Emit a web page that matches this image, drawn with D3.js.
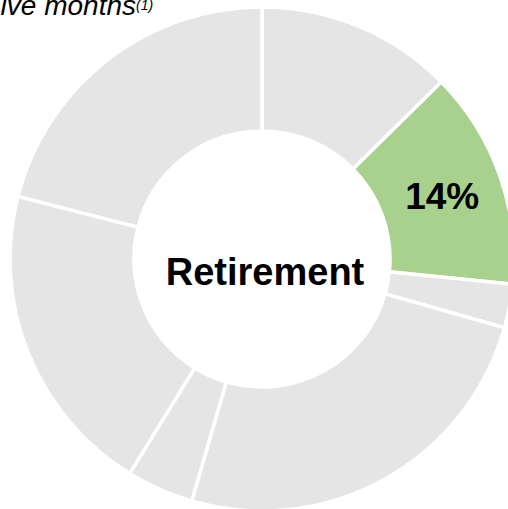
<!DOCTYPE html>
<html>
<head>
<meta charset="utf-8">
<script src="https://cdn.jsdelivr.net/npm/d3@7/dist/d3.min.js"></script>
<style>
  html, body { margin: 0; padding: 0; background: #ffffff; overflow: hidden; }
  svg { display: block; font-family: "Liberation Sans", Arial, sans-serif; }
</style>
</head>
<body>
<svg id="chart" width="508" height="509"></svg>
<script>
// Share of each slice (percent), clockwise from 12 o'clock
const shares = [12.6, 14, 2.8, 25.1, 4.3, 20.2, 21.0];
// Which slice is highlighted and labelled
const highlight = [false, true, false, false, false, false, false];
const centerLabel = "Retirement";
const titleText = "twelve months";
const titleNote = "(1)";

const svg = d3.select("#chart");
const cx = 262, cy = 259;
const outerR = 252, innerR = 128;

const pie = d3.pie().sort(null).value(d => d).startAngle(0).endAngle(2 * Math.PI);
const arc = d3.arc().innerRadius(innerR).outerRadius(outerR);
const colour = d3.scaleOrdinal().domain([false, true]).range(["#e5e5e5", "#a9d18e"]);

const g = svg.append("g").attr("transform", `translate(${cx},${cy})`);
const arcs = pie(shares);

g.selectAll("path.slice")
  .data(arcs)
  .join("path")
  .attr("class", "slice")
  .attr("d", arc)
  .attr("fill", (d, i) => colour(highlight[i]))
  .attr("stroke", "#ffffff")
  .attr("stroke-width", 3.5)
  .attr("stroke-linejoin", "miter");

// Percentage label on the highlighted slice
g.selectAll("text.pct")
  .data(arcs.filter((d, i) => highlight[i]))
  .join("text")
  .attr("class", "pct")
  .attr("x", d => arc.centroid(d)[0] + 1)
  .attr("y", d => arc.centroid(d)[1])
  .attr("dy", "0.36em")
  .attr("text-anchor", "middle")
  .attr("font-weight", "bold")
  .attr("font-size", 37)
  .attr("fill", "#000")
  .text(d => `${Math.round(d.data)}%`);

// Centre label
g.append("text")
  .attr("x", 3)
  .attr("y", 26)
  .attr("text-anchor", "middle")
  .attr("font-weight", "bold")
  .attr("font-size", 38)
  .attr("fill", "#000")
  .text(centerLabel);

// Heading along the top edge
svg.append("text")
  .attr("x", 136)
  .attr("y", 15)
  .attr("text-anchor", "end")
  .attr("font-style", "italic")
  .attr("font-size", 28)
  .attr("fill", "#000")
  .text(titleText);

svg.append("text")
  .attr("x", 136)
  .attr("y", 10)
  .attr("font-style", "italic")
  .attr("font-size", 14)
  .attr("fill", "#000")
  .text(titleNote);
</script>
</body>
</html>
